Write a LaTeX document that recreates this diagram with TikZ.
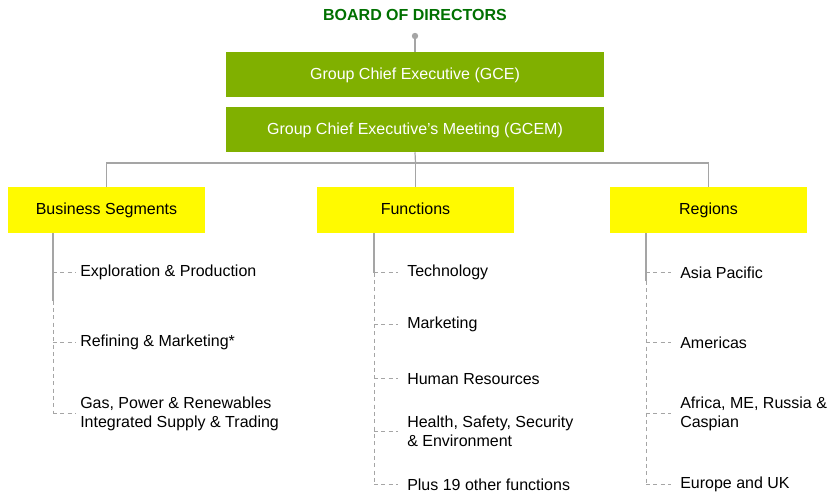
\documentclass[tikz,border=0pt]{standalone}
\usepackage{fontspec}
\setmainfont{Liberation Sans}
\usetikzlibrary{positioning,calc}
\definecolor{boardgreen}{RGB}{0,112,0}
\definecolor{boxgreen}{RGB}{128,176,0}
\definecolor{segyellow}{RGB}{255,250,0}
\definecolor{linegray}{RGB}{165,165,165}
\tikzset{
  topbox/.style={fill=boxgreen,text=white,minimum width=283.5pt,minimum height=33.75pt,inner sep=0pt,text height=8.6pt,text depth=1.6pt},
  segbox/.style={fill=segyellow,text=black,minimum width=147.75pt,minimum height=34.5pt,inner sep=0pt,text height=8.6pt,text depth=1.6pt},
  item/.style={anchor=west,inner sep=0pt,align=left,yshift=-1.2pt},
  trunk/.style={draw=linegray,line width=0.9pt},
  twig/.style={draw=linegray,line width=0.75pt,dash pattern=on 3pt off 2.5pt}
}

\begin{document}
\begin{tikzpicture}[x=0.75pt,y=-0.75pt,font=\fontsize{12}{14.25}\selectfont]
    \useasboundingbox (0,0) rectangle (827,495);

    % top of the chart
    \node[font=\fontsize{12}{14}\selectfont\bfseries,text=boardgreen] (board) at (415,15) {BOARD OF DIRECTORS};
    \node[topbox] (gce) at (415,74.5) {Group Chief Executive (GCE)};
    \node[topbox] (gcem) at (415,129.5) {Group Chief Executive’s Meeting (GCEM)};
    \coordinate (pin) at (415,36);
    \draw[trunk] (pin) -- (gce.north);
    \fill[linegray] (pin) circle (2.4pt);

    % the three groups
    \node[segbox] (bs) at (106.5,210) {Business Segments};
    \node[segbox] (fn) at (415.5,210) {Functions};
    \node[segbox] (reg) at (708.5,210) {Regions};
    \coordinate (fork) at (415.5,163);
    \draw[trunk] (gcem.south) -- (fork);
    \draw[trunk] (bs.north) |- (fork) -| (reg.north);
    \draw[trunk] (fork) -- (fn.north);

    % business segments
    \node[item] (ep) at (80,271) {Exploration \& Production};
    \node[item] (rm) at (80,341) {Refining \& Marketing*};
    \node[item] (gas) at (80,412) {Gas, Power \& Renewables\\Integrated Supply \& Trading};
    \coordinate (bsspine) at (53,233);
    \draw[trunk] (bsspine) -- ($(bsspine |- ep.west)+(0,28)$);
    \draw[twig] ($(bsspine |- ep.west)+(0,28)$) -- (bsspine |- gas.west);
    \foreach \n in {ep,rm,gas}
        \draw[twig] (bsspine |- \n.west) -- ([xshift=-3.5pt]\n.west);

    % functions
    \node[item] (tech) at (407,271) {Technology};
    \node[item] (mkt) at (407,323) {Marketing};
    \node[item] (hr) at (407,377) {Human Resources};
    \node[item] (hsse) at (407,430) {Health, Safety, Security\\\& Environment};
    \node[item] (plus) at (407,483) {Plus 19 other functions};
    \coordinate (fnspine) at (374,233);
    \draw[trunk] (fnspine) -- (fnspine |- tech.west);
    \draw[twig] (fnspine |- tech.west) -- (fnspine |- plus.west);
    \foreach \n in {tech,mkt,hr,hsse,plus}
        \draw[twig] (fnspine |- \n.west) -- ([xshift=-6.5pt]\n.west);

    % regions
    \node[item] (asia) at (680,271) {Asia Pacific};
    \node[item] (amer) at (680,341) {Americas};
    \node[item] (afr) at (680,412) {Africa, ME, Russia \&\\Caspian};
    \node[item] (eur) at (680,483) {Europe and UK};
    \coordinate (regspine) at (646,233);
    \draw[trunk] (regspine) -- ($(regspine |- asia.west)+(0,8)$);
    \draw[twig] ($(regspine |- asia.west)+(0,8)$) -- (regspine |- eur.west);
    \foreach \n in {asia,amer,afr,eur}
        \draw[twig] (regspine |- \n.west) -- ([xshift=-7pt]\n.west);
\end{tikzpicture}
\end{document}
